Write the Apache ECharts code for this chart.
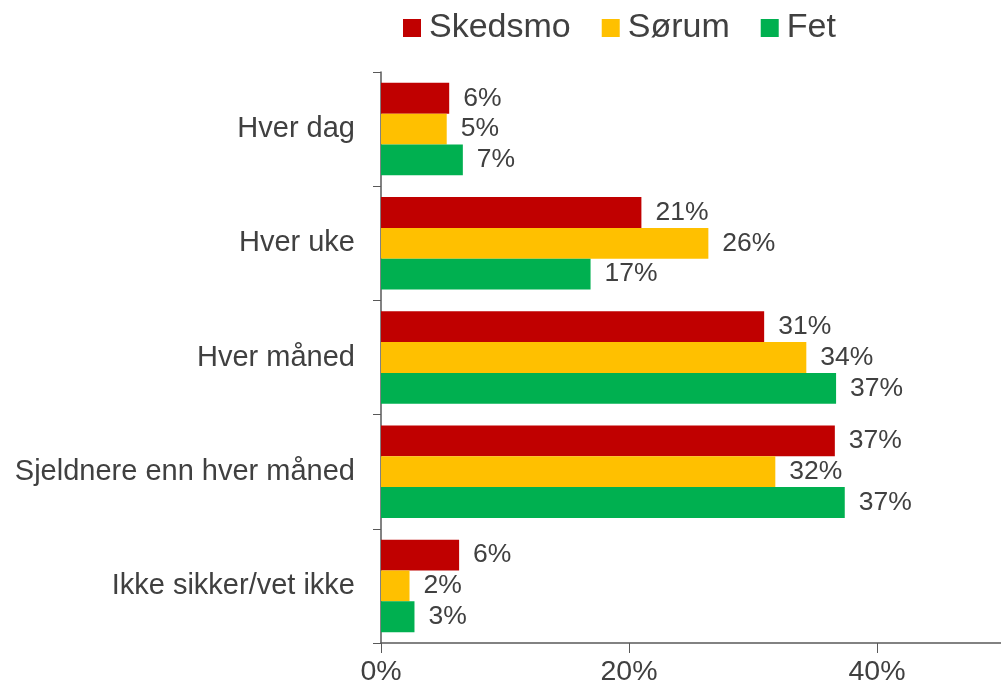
<!DOCTYPE html>
<html>
<head>
<meta charset="utf-8">
<script src="https://cdn.jsdelivr.net/npm/echarts@6/dist/echarts.min.js"></script>
<style>html,body{margin:0;padding:0;background:#fff}#c{width:1001px;height:691px}</style>
</head>
<body>
<div id="c"></div>
<script>
const categories = ['Hver dag', 'Hver uke', 'Hver måned', 'Sjeldnere enn hver måned', 'Ikke sikker/vet ikke'];
const seriesNames = ['Skedsmo', 'Sørum', 'Fet'];
const skedsmo = [5.5, 21.0, 30.9, 36.6, 6.3];
const sorum = [5.3, 26.4, 34.3, 31.8, 2.3];
const fet = [6.6, 16.9, 36.7, 37.4, 2.7];
const xTicks = [0, 20, 40];
const colors = ['#C00000', '#FFC000', '#00B050'];

const txt = '#404040';
const font = '"Liberation Sans", Arial, sans-serif';
const chart = echarts.init(document.getElementById('c'));
const data = [skedsmo, sorum, fet];
chart.setOption({
  animation: false,
  textStyle: { fontFamily: font },
  legend: {
    top: 6, left: 398, itemWidth: 18, itemHeight: 18, itemGap: 31,
    icon: 'rect',
    textStyle: { fontSize: 34, color: txt, fontFamily: font, padding: [0,0,0,3] },
    data: seriesNames
  },
  grid: { left: 381, right: 0, top: 72, bottom: 48, containLabel: false },
  xAxis: {
    type: 'value', min: 0, max: 50, interval: 20,
    axisLine: { show: true, lineStyle: { color: '#595959', width: 1.5 } },
    axisTick: { show: true, length: 10, lineStyle: { color: '#595959' } },
    splitLine: { show: false },
    axisLabel: {
      showMaxLabel: false, fontSize: 28.5, color: txt, fontFamily: font, margin: 15,
      formatter: v => xTicks.includes(v) ? v + '%' : ''
    }
  },
  yAxis: {
    type: 'category', data: categories, inverse: true,
    axisLine: { show: true, lineStyle: { color: '#595959', width: 1.5 } },
    axisTick: { show: true, length: 8, lineStyle: { color: '#595959' } },
    axisLabel: { fontSize: 29, color: txt, fontFamily: font, margin: 26 }
  },
  series: data.map((d, i) => ({
    name: seriesNames[i], type: 'bar', data: d,
    itemStyle: { color: colors[i] },
    barGap: '0%', barCategoryGap: '19%',
    label: {
      show: true, position: 'right', distance: 14,
      fontSize: 26.5, color: txt, fontFamily: font,
      formatter: p => Math.round(p.value) + '%'
    }
  }))
});
</script>
</body>
</html>
